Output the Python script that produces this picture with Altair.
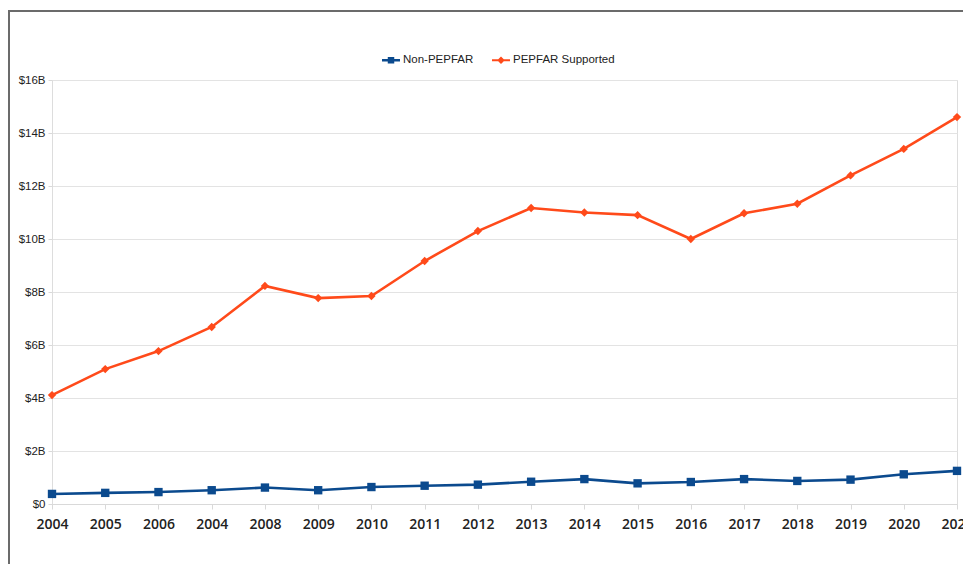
import altair as alt
import pandas as pd

years = ["2004", "2005", "2006", "2004", "2008", "2009", "2010", "2011", "2012",
         "2013", "2014", "2015", "2016", "2017", "2018", "2019", "2020", "2021"]
pepfar = [4.11, 5.09, 5.77, 6.68, 8.23, 7.77, 7.85, 9.17, 10.30,
          11.17, 11.00, 10.90, 10.00, 10.97, 11.33, 12.40, 13.40, 14.60]
non_pepfar = [0.38, 0.42, 0.45, 0.52, 0.62, 0.52, 0.64, 0.69, 0.73,
              0.84, 0.94, 0.78, 0.83, 0.94, 0.87, 0.92, 1.12, 1.25]
series_names = ["Non-PEPFAR", "PEPFAR Supported"]
series_colors = ["#0b4a8e", "#ff4a1a"]

rows = []
for i in range(len(years)):
    rows.append({"idx": i, "series": series_names[0], "value": non_pepfar[i]})
    rows.append({"idx": i, "series": series_names[1], "value": pepfar[i]})
df = pd.DataFrame(rows)

label_expr = "[" + ",".join("'" + y + "'" for y in years) + "][datum.value]"

x_enc = alt.X("idx:O",
              scale=alt.Scale(type="point", padding=0),
              axis=alt.Axis(title=None, labelAngle=0, labelExpr=label_expr,
                            labelFont="Open Sans", labelFontWeight=600, labelFontSize=14,
                            labelColor="#222222", labelPadding=8, tickSize=5,
                            tickColor="#d9d9d9", domainColor="#d9d9d9", grid=False))
y_enc = alt.Y("value:Q",
              scale=alt.Scale(domain=[0, 16], nice=False),
              axis=alt.Axis(title=None, values=list(range(0, 17, 2)),
                            labelExpr="datum.value == 0 ? '$0' : '$' + datum.value + 'B'",
                            labelFont="Liberation Sans", labelFontSize=11.5, labelColor="#222222",
                            tickSize=4, tickColor="#d9d9d9", labelPadding=3,
                            gridColor="#e3e3e3", domain=False))

color_scale = alt.Scale(domain=series_names, range=series_colors)

sq = "M-1,-0.14H1V0.14H-1Z M-0.36,-0.36H0.36V0.36H-0.36Z"
dm = "M-1,-0.12H1V0.12H-1Z M0,-0.42L0.42,0L0,0.42L-0.42,0Z"

legend = alt.Legend(title=None, orient="none", legendX=330, legendY=-29,
                    direction="horizontal", labelFont="Liberation Sans", labelFontSize=11.5,
                    labelColor="#222222", symbolSize=324, columnPadding=18, labelOffset=3,
                    padding=0, symbolStrokeWidth=0, symbolOpacity=1)

lines = alt.Chart(df).mark_line(strokeWidth=2.6).encode(
    x=x_enc, y=y_enc,
    color=alt.Color("series:N", scale=color_scale, legend=None),
    detail="series:N",
)
points = alt.Chart(df).mark_point(filled=True, opacity=1, size=70).encode(
    x=x_enc, y=y_enc,
    color=alt.Color("series:N", scale=color_scale, legend=None),
    shape=alt.Shape("series:N", scale=alt.Scale(domain=series_names, range=["square", "diamond"]),
                    legend=None),
)
ghost = alt.Chart(df).transform_filter("false").mark_point(filled=True, opacity=1).encode(
    x=x_enc, y=y_enc,
    color=alt.Color("series:N", scale=color_scale, legend=legend),
    shape=alt.Shape("series:N", scale=alt.Scale(domain=series_names, range=[sq, dm]),
                    legend=legend),
)

frame_df = pd.DataFrame({"a": [0]})
frame_top = alt.Chart(frame_df).mark_rule(color="#6b6b6b", strokeWidth=2).encode(
    x=alt.value(-44), x2=alt.value(920), y=alt.value(-69))
frame_left = alt.Chart(frame_df).mark_rule(color="#6b6b6b", strokeWidth=2).encode(
    x=alt.value(-43), y=alt.value(-70), y2=alt.value(500))

chart = alt.layer(frame_top, frame_left, lines, points, ghost).resolve_scale(
    color="independent", shape="independent"
).properties(
    width=905, height=424,
    autosize=alt.AutoSizeParams(type="none"),
    padding={"left": 44, "top": 72, "right": 6, "bottom": 60},
).configure_view(stroke="#dcdcdc").configure(background="white")

chart.save("out.html", embed_options={"renderer": "svg", "actions": False})
